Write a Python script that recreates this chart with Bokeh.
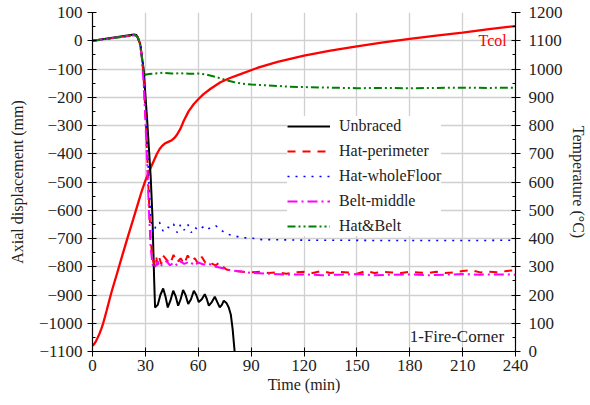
from bokeh.plotting import figure
from bokeh.models import LinearAxis, Range1d, SingleIntervalTicker, Legend, LegendItem, Label
from bokeh.embed import file_html
from bokeh.resources import INLINE

# ---------------- data ----------------
t_unbraced = [0, 23.5, 25, 27, 29, 31, 33, 34, 35, 35.5, 37, 38.5, 40.1, 41.4, 42.7, 44.2, 45.8, 47.2, 48.6,
              50.0, 51.4, 52.8, 54.3, 55.9, 57.5, 58.9, 60.3, 62.0, 63.7, 64.9, 66.0, 67.7, 69.4, 70.8, 72.2,
              73.4, 74.5, 76.0, 77.3, 78.5, 79.5, 80.5, 81.2]
d_unbraced = [0, 22, 20, -10, -100, -280, -480, -620, -850, -944, -935, -900, -877, -905, -944, -920, -885, -905,
              -938, -915, -882, -900, -932, -915, -885, -900, -925, -915, -897, -915, -938, -925, -906, -925, -944,
              -935, -920, -928, -944, -970, -1020, -1090, -1150]

t_hatper = [0, 24, 25.5, 27, 28, 29, 30, 31, 32, 33, 34, 35, 36, 37, 38, 39, 40, 42, 44, 46, 48, 50, 52, 54, 56,
            58, 60, 62, 64, 66, 68, 70, 72, 74, 76, 78, 80, 85, 90, 95, 100, 105, 110, 115, 120, 125, 130, 135,
            140, 145, 150, 155, 160, 165, 170, 175, 180, 185, 190, 195, 200, 205, 210, 215, 220, 225, 230, 235, 240]
d_hatper = [0, 20, 15, -10, -50, -130, -250, -400, -560, -700, -770, -790, -760, -795, -770, -790, -760, -775,
            -790, -758, -785, -770, -790, -760, -780, -770, -790, -765, -785, -780, -790, -795, -785, -800, -810,
            -812, -815, -818, -820, -818, -822, -820, -825, -820, -818, -822, -815, -822, -818, -820, -825, -815,
            -822, -818, -820, -822, -818, -820, -822, -818, -822, -820, -815, -812, -820, -818, -820, -815, -812]

t_hatwhole = [0, 24, 25.5, 27, 28, 29, 30, 31, 32, 33, 34, 35, 36, 38, 40, 42, 44, 46, 48, 50, 52, 54, 56, 58,
              60, 62, 64, 66, 68, 70, 72, 74, 76, 80, 84, 88, 92, 96, 100, 110, 120, 140, 160, 180, 200, 220, 240]
d_hatwhole = [0, 20, 15, -5, -40, -110, -220, -360, -500, -620, -670, -680, -650, -643, -673, -658, -663, -649,
              -679, -650, -670, -649, -679, -660, -670, -662, -655, -665, -658, -655, -665, -675, -684, -690, -696,
              -698, -700, -704, -704, -705, -706, -706, -707, -707, -707, -707, -706]

t_belt = [0, 24, 25.5, 27, 28, 29, 30, 31, 32, 33, 34, 35, 36, 37, 38, 40, 42, 44, 46, 48, 50, 52, 55, 58, 60,
          63, 66, 70, 74, 78, 82, 86, 90, 100, 110, 120, 130, 140, 150, 160, 170, 180, 190, 200, 210, 220, 230, 240]
d_belt = [0, 20, 15, -10, -60, -150, -280, -430, -600, -730, -790, -805, -795, -780, -800, -790, -780, -795,
          -785, -795, -780, -790, -782, -795, -785, -792, -790, -800, -805, -812, -815, -818, -822, -825, -828,
          -827, -830, -828, -826, -830, -828, -827, -830, -828, -826, -828, -827, -828]

t_hatbelt = [0, 24, 25.5, 27, 28, 29, 30, 32, 35, 40, 45, 50, 55, 60, 65, 70, 75, 80, 85, 90, 100, 110, 120,
             135, 150, 165, 180, 195, 210, 225, 240]
d_hatbelt = [0, 20, 15, -15, -60, -110, -120, -118, -116, -113, -116, -115, -117, -116, -120, -128, -138, -146,
             -152, -155, -158, -162, -164, -166, -168, -167, -168, -167, -166, -167, -166]

t_tcol = [0, 1, 2, 3, 4, 5, 6, 7, 8, 9, 10, 11, 14, 17, 20, 23, 26, 28, 30, 32.7, 34.8, 36.5, 38, 39.5, 41, 43,
          45, 46.5, 48, 50, 51.8, 54.5, 57.5, 60, 63, 67, 72.6, 78, 84, 94.4, 105, 120, 135, 150, 165, 180, 195,
          210, 225, 240]
temp_tcol = [20, 27, 37, 50, 64, 80, 99, 121, 144, 168, 192, 215, 278, 342, 405, 466, 528, 569, 605, 646, 675,
             699, 716, 728, 736, 742, 748, 756, 768, 790, 817, 850, 876, 893, 911, 930, 953, 968, 982, 1006, 1025,
             1047, 1065, 1080, 1094, 1107, 1118, 1129, 1141, 1152]

series_names = ["Unbraced", "Hat-perimeter", "Hat-wholeFloor", "Belt-middle", "Hat&Belt"]
y_ticks_left = list(range(-1100, 101, 100))

FONT = "Liberation Serif"

p = figure(frame_width=423, frame_height=339, x_range=Range1d(0, 240), y_range=Range1d(-1100, 100),
           output_backend="svg", toolbar_location=None,
           min_border_left=92, min_border_right=74, min_border_top=12, min_border_bottom=50,
           background_fill_color="white", border_fill_color="white")
p.outline_line_color = None
p.extra_y_ranges = {"temp": Range1d(0, 1200)}

# axes
p.xaxis.ticker = SingleIntervalTicker(interval=30, num_minor_ticks=0)
p.yaxis.ticker = SingleIntervalTicker(interval=100, num_minor_ticks=2)
p.yaxis.major_label_overrides = {v: ("\u2212" + str(-v) if v < 0 else str(v)) for v in y_ticks_left}
p.xaxis.axis_label = "Time (min)"
p.yaxis.axis_label = "Axial displacement (mm)"

rax = LinearAxis(y_range_name="temp", ticker=SingleIntervalTicker(interval=100, num_minor_ticks=2),
                 axis_label="Temperature (\u00b0C)")
p.add_layout(rax, "right")

for ax in [p.xaxis[0], p.yaxis[0], rax]:
    ax.major_label_text_font = FONT
    ax.major_label_text_font_size = "17px"
    ax.major_label_text_color = "#222222"
    ax.axis_label_text_font = FONT
    ax.axis_label_text_font_size = "16px"
    ax.axis_label_text_font_style = "normal"
    ax.axis_label_text_color = "#222222"
    ax.axis_line_color = "black"
    ax.axis_line_width = 1.2
    ax.major_tick_line_color = "black"
    ax.minor_tick_line_color = "black"
    ax.major_tick_out = 5
    ax.major_tick_in = 4
    ax.minor_tick_out = 0
    ax.minor_tick_in = 3
    ax.major_label_standoff = 5

p.xaxis.major_label_standoff = 3
p.xaxis.axis_label_standoff = 2
p.yaxis.axis_label_standoff = 10
rax.major_label_standoff = 8
rax.axis_label_standoff = 4

p.xgrid.grid_line_color = "#d0d0d0"
p.ygrid.grid_line_color = "#d0d0d0"
p.xgrid.grid_line_width = 1.3
p.ygrid.grid_line_width = 1.3

# lines
r_tcol = p.line(t_tcol, temp_tcol, y_range_name="temp", line_color="red", line_width=2.3)
r1 = p.line(t_unbraced, d_unbraced, line_color="black", line_width=2)
r2 = p.line(t_hatper, d_hatper, line_color="red", line_width=2, line_dash="8 7")
r3 = p.line(t_hatwhole, d_hatwhole, line_color="blue", line_width=1.6, line_dash="2 6")
r4 = p.line(t_belt, d_belt, line_color="magenta", line_width=2, line_dash="10 4 2 4")
r5 = p.line(t_hatbelt, d_hatbelt, line_color="green", line_width=2, line_dash="8 3 2 3 2 3")

legend = Legend(items=[LegendItem(label=n, renderers=[r]) for n, r in zip(series_names, [r1, r2, r3, r4, r5])],
                location=(195, 115), label_text_font=FONT, label_text_font_size="16px",
                label_text_color="#222222",
                glyph_width=43, glyph_height=20, label_height=20, spacing=5, padding=10,
                label_standoff=9, margin=0, border_line_color=None,
                background_fill_color="white", background_fill_alpha=1.0)
p.add_layout(legend)

p.add_layout(Label(x=219, y=1100, y_range_name="temp", text="Tcol", text_color="red",
                   text_font=FONT, text_font_size="16px", text_baseline="middle", text_align="left"))
p.add_layout(Label(x=233.5, y=-1048, text="1-Fire-Corner", text_color="#222222",
                   text_font=FONT, text_font_size="17px", text_baseline="middle", text_align="right"))

open("out.html", "w").write(file_html(p, INLINE))
